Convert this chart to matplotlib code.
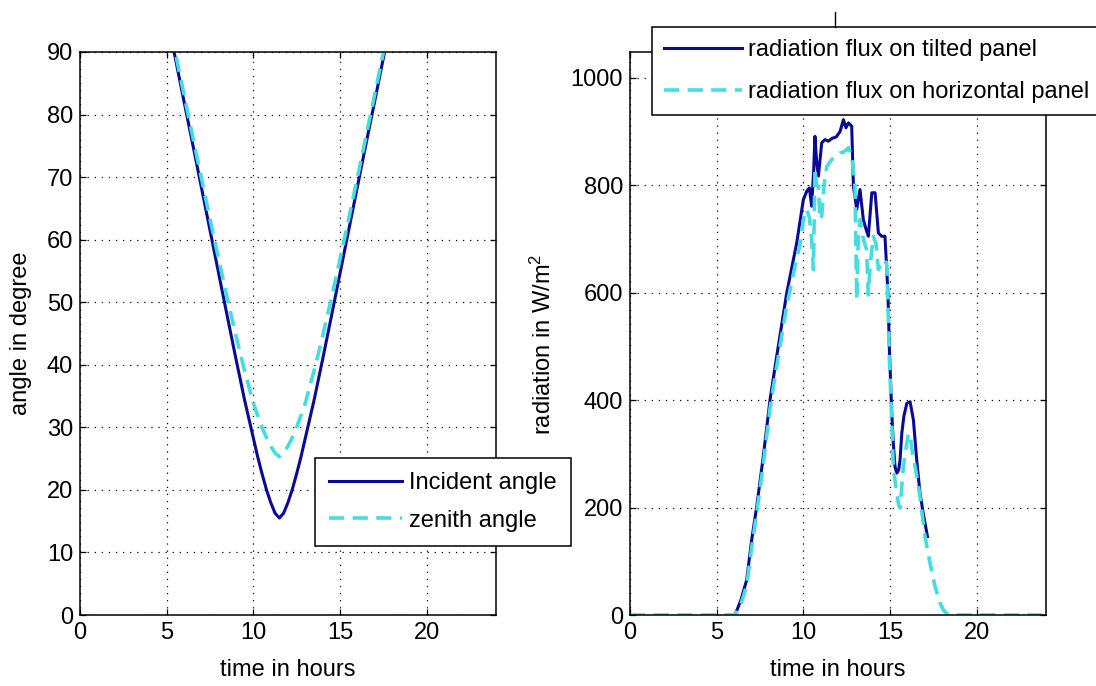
import numpy as np
import matplotlib
matplotlib.use("Agg")
import matplotlib.pyplot as plt
from matplotlib.lines import Line2D

plt.rcParams['font.family'] = ['Liberation Sans', 'DejaVu Sans']
plt.rcParams['mathtext.fontset'] = 'custom'
plt.rcParams['mathtext.rm'] = 'Liberation Sans'
plt.rcParams['mathtext.it'] = 'Liberation Sans'
plt.rcParams['lines.scale_dashes'] = False

# ---------------- data: left panel (angles, degrees) ----------------
t_angle = [5.0, 5.5, 6.0, 6.5, 7.0, 7.5, 8.0, 8.5, 9.0, 9.5, 10.0,
           10.25, 10.5, 10.75, 11.0, 11.25, 11.5, 11.75, 12.0, 12.25, 12.5, 12.75,
           13.0, 13.5, 14.0, 14.5, 15.0, 15.5, 16.0, 16.5, 17.0, 17.5, 18.0]
incident = [95.8, 89.0, 82.1, 75.3, 68.4, 61.5, 54.6, 47.7, 40.9, 34.3, 28.3,
            25.3, 22.6, 20.1, 18.0, 16.3, 15.5, 16.3, 18.0, 20.1, 22.6, 25.3,
            28.3, 34.3, 40.9, 47.7, 54.6, 61.5, 68.4, 75.3, 82.1, 89.0, 95.8]
zenith = [96.6, 89.9, 83.2, 76.5, 69.9, 63.3, 56.9, 50.6, 44.6, 39.0, 33.9,
          31.9, 30.0, 28.4, 27.0, 25.9, 25.3, 25.9, 27.0, 28.4, 30.0, 31.9,
          33.9, 39.0, 44.6, 50.6, 56.9, 63.3, 69.9, 76.5, 83.2, 89.9, 96.6]

# ---------------- data: right panel (radiation, W/m^2) ----------------
t_tilt = [6.06, 6.4, 6.73, 7.02, 7.31, 7.69, 8.08, 8.46, 9.04, 9.62, 10.0, 10.2,
          10.35, 10.48, 10.6, 10.67, 10.77, 10.87, 11.06, 11.25, 11.45, 11.64, 11.9,
          12.12, 12.31, 12.46, 12.6, 12.79, 12.89, 13.08, 13.27, 13.46, 13.6, 13.75,
          13.95, 14.14, 14.33, 14.52, 14.71, 14.8, 14.88, 14.96, 15.1, 15.19, 15.29,
          15.39, 15.5, 15.58, 15.68, 15.8, 15.97, 16.16, 16.35, 16.54, 16.73, 16.92, 17.16]
flux_tilt = [0, 28, 65, 140, 202, 295, 401, 481, 599, 693, 773, 789,
             795, 761, 830, 891, 842, 817, 879, 885, 882, 887, 890,
             900, 922, 907, 916, 910, 798, 755, 792, 736, 720, 705,
             786, 786, 711, 705, 705, 650, 600, 500, 376, 320, 276,
             264, 270, 289, 338, 370, 394, 397, 363, 289, 227, 189, 146]

t_hor = [0, 3, 6.06, 6.4, 6.73, 7.02, 7.31, 7.69, 8.08, 8.46, 9.04, 9.62, 9.81,
         10.0, 10.19, 10.35, 10.48, 10.58, 10.67, 10.77, 10.87, 10.96, 11.06, 11.2,
         11.35, 11.64, 11.9, 12.12, 12.31, 12.46, 12.6, 12.79, 12.98, 13.08, 13.17,
         13.27, 13.46, 13.65, 13.75, 13.85, 14.04, 14.2, 14.33, 14.5, 14.62, 14.81,
         14.9, 14.96, 15.1, 15.19, 15.29, 15.39, 15.5, 15.58, 15.68, 15.77, 15.97,
         16.06, 16.16, 16.3, 16.45, 16.6, 16.73, 17.02, 17.31, 17.6, 17.89, 18.1,
         18.27, 18.5, 21, 24]
flux_hor = [0, 0, 0, 20, 55, 125, 190, 280, 385, 462, 575, 665, 690,
            735, 755, 740, 700, 643, 829, 800, 798, 736, 742, 800,
            835, 848, 852, 860, 862, 865, 870, 854, 798, 587, 700,
            736, 700, 680, 596, 650, 705, 690, 643, 655, 661, 655,
            560, 480, 360, 276, 250, 227, 205, 199, 240, 276, 320,
            338, 335, 300, 276, 248, 220, 146, 96, 53, 22, 8,
            3, 0, 0, 0]

x_ticks = [0, 5, 10, 15, 20]
angle_ticks = [0, 10, 20, 30, 40, 50, 60, 70, 80, 90]
flux_ticks = [0, 200, 400, 600, 800, 1000]

DARK = '#0a0a98'
CYAN = '#45dede'
FS = 17

W, H = 1096, 686
fig = plt.figure(figsize=(W / 100, H / 100), dpi=100)
ax1 = fig.add_axes([80 / W, 1 - 615 / H, 416 / W, 563 / H])
ax2 = fig.add_axes([630 / W, 1 - 615 / H, 416 / W, 563 / H])

for ax in (ax1, ax2):
    ax.set_xlim(0, 24)
    ax.set_xticks(x_ticks)
    ax.grid(True, color='black', linestyle=(0, (0.9, 4.2)), linewidth=0.9)
    ax.set_axisbelow(True)
    ax.tick_params(direction='in', length=4.5, width=0.9, top=True, right=True,
                   labelsize=FS, pad=5, colors='black')
    for sp in ax.spines.values():
        sp.set_linewidth(1.1)
    ax.set_xlabel('time in hours', fontsize=FS, labelpad=11)

# left panel
ax1.plot(t_angle, incident, color=DARK, lw=2.2, label='Incident angle')
ax1.plot(t_angle, zenith, color=CYAN, lw=2.6, dashes=(11, 6), label='zenith angle')
ax1.set_ylim(0, 90)
ax1.set_yticks(angle_ticks)
ax1.set_ylabel('angle in degree', fontsize=FS)
ax1.yaxis.set_label_coords(-0.115, 0.5)
leg1 = ax1.legend(loc='upper left', bbox_to_anchor=(315 / W, 1 - 458 / H),
                  bbox_transform=fig.transFigure, borderaxespad=0, fontsize=FS,
                  handlelength=3.1, handletextpad=0.3, borderpad=0.6,
                  labelspacing=0.66, fancybox=False, framealpha=1)
leg1.get_frame().set_edgecolor('black')
leg1.get_frame().set_linewidth(1.1)

# right panel
ax2.plot(t_tilt, flux_tilt, color=DARK, lw=2.2, label='radiation flux on tilted panel')
ax2.plot(t_hor, flux_hor, color=CYAN, lw=2.6, dashes=(11, 6),
         label='radiation flux on horizontal panel')
ax2.set_ylim(0, 1048)
ax2.set_yticks(flux_ticks)
ax2.set_ylabel('radiation in W/m$^2$', fontsize=FS)
ax2.yaxis.set_label_coords(-0.178, 0.48)
leg2 = ax2.legend(loc='upper left', bbox_to_anchor=(652 / W, 1 - 27 / H),
                  bbox_transform=fig.transFigure, borderaxespad=0, fontsize=FS,
                  handlelength=3.3, handletextpad=0.25, borderpad=0.5,
                  labelspacing=0.85, fancybox=False, framealpha=1)
leg2.get_frame().set_edgecolor('black')
leg2.get_frame().set_linewidth(1.1)

# small stray tick above the right legend
fig.add_artist(Line2D([835 / W, 835 / W], [1 - 12 / H, 1 - 27 / H],
                      color='black', lw=1.0, transform=fig.transFigure))

fig.savefig('out.png', dpi=100)
